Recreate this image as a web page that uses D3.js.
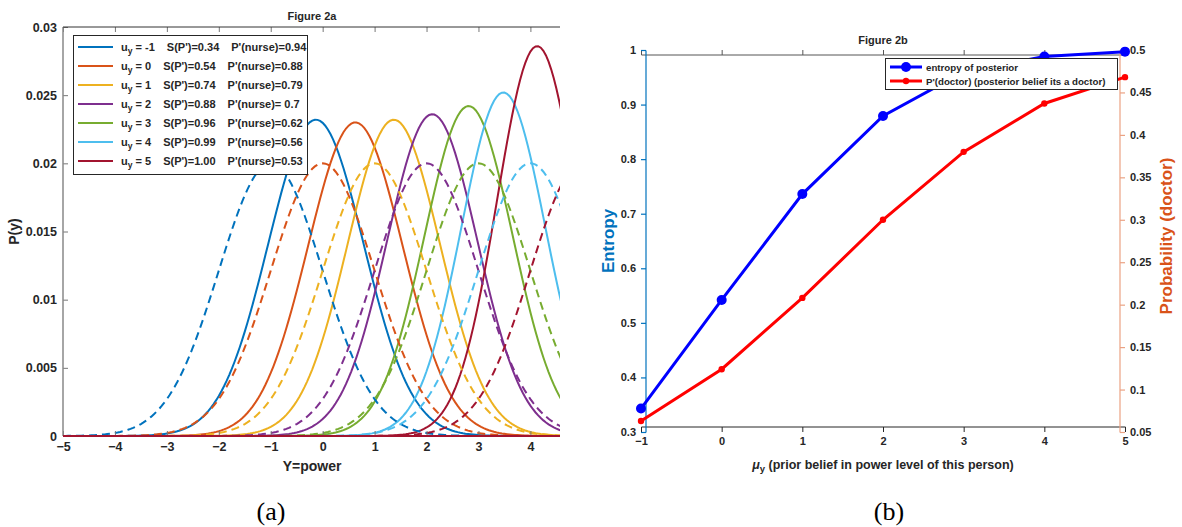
<!DOCTYPE html>
<meta charset="utf-8">
<style>
body { margin: 0; background: #fff; }
text { font-family: 'Liberation Sans', Arial, sans-serif; font-weight: bold; fill: #262626; }
.tick text { font-size: 10.5px; }
.caption { font-family: 'Liberation Serif', 'Times New Roman', serif; font-weight: normal; font-size: 26px; fill: #000; }
</style>
<body>
<script src="https://d3js.org/d3.v7.min.js"></script>
<script>

// Figure 2a: prior (dashed) and posterior (solid) curves
const priorMeans = [-1, 0, 1, 2, 3, 4, 5];
const priorPeak = 0.02,
      priorSd = 1;
const postMeans = [-0.13, 0.63, 1.37, 2.11, 2.81, 3.48, 4.13];
const postPeaks = [0.0232, 0.0230, 0.0232, 0.0236, 0.0242, 0.0252, 0.0286];
const postSds = [0.92, 0.91, 0.89, 0.87, 0.85, 0.81, 0.77];
const entropyLabels = ["0.34", "0.54", "0.74", "0.88", "0.96", "0.99", "1.00"];
const nurseLabels = ["0.94", "0.88", "0.79", " 0.7", "0.62", "0.56", "0.53"];
const xTicksA = [-5, -4, -3, -2, -1, 0, 1, 2, 3, 4];
const yTicksA = [0, 0.005, 0.01, 0.015, 0.02, 0.025, 0.03];
const colors = ["#0072BD", "#D95319", "#EDB120", "#7E2F8E", "#77AC30", "#4DBEEE", "#A2142F"];

// Figure 2b
const muY = [-1, 0, 1, 2, 3, 4, 5];
const entropy = [0.343, 0.542, 0.736, 0.879, 0.96, 0.988, 0.997];
const pDoctor = [0.063, 0.124, 0.208, 0.300, 0.380, 0.437, 0.468];
const yTicksLeft = [0.3, 0.4, 0.5, 0.6, 0.7, 0.8, 0.9, 1];
const yTicksRight = [0.05, 0.1, 0.15, 0.2, 0.25, 0.3, 0.35, 0.4, 0.45, 0.5];

const svg = d3.select("body").append("svg")
    .attr("width", 1182)
    .attr("height", 527);

// ---------- panel a ----------
const xa = d3.scaleLinear().domain([-5, 4.57]).range([63, 560]),
      ya = d3.scaleLinear().domain([0, 0.03]).range([436, 27]);

svg.append("clipPath").attr("id", "clipA")
  .append("rect")
    .attr("x", xa.range()[0]).attr("y", ya.range()[1])
    .attr("width", xa.range()[1] - xa.range()[0])
    .attr("height", ya.range()[0] - ya.range()[1]);

const grid = d3.range(-5, 5.001, 0.05);
const gauss = (m, s, p) => grid.map(x => [x, p * Math.exp(-(x - m) * (x - m) / (2 * s * s))]);
const line = d3.line().x(d => xa(d[0])).y(d => ya(d[1]));

const curves = svg.append("g").attr("clip-path", "url(#clipA)").attr("fill", "none");

curves.selectAll("path.post")
  .data(postMeans)
  .join("path")
    .attr("class", "post")
    .attr("stroke", (d, i) => colors[i])
    .attr("stroke-width", 2)
    .attr("d", (d, i) => line(gauss(d, postSds[i], postPeaks[i])));

curves.selectAll("path.prior")
  .data(priorMeans)
  .join("path")
    .attr("class", "prior")
    .attr("stroke", (d, i) => colors[i])
    .attr("stroke-width", 2)
    .attr("stroke-dasharray", "8,5")
    .attr("d", d => line(gauss(d, priorSd, priorPeak)));

// axes a
const axA = svg.append("g");
axA.append("g")
    .attr("transform", `translate(0,${ya(0)})`)
    .call(d3.axisBottom(xa).tickValues(xTicksA).tickSize(-5).tickPadding(6).tickFormat(d3.format("d")));
axA.append("g")
    .attr("transform", `translate(0,${ya(0.03)})`)
    .call(d3.axisTop(xa).tickValues(xTicksA).tickSize(-5).tickFormat(""));
axA.append("g")
    .attr("transform", `translate(${xa(-5)},0)`)
    .call(d3.axisLeft(ya).tickValues(yTicksA).tickSize(-5).tickPadding(6).tickFormat(d3.format("~g")));
axA.selectAll(".tick line").attr("stroke", "#777");
axA.selectAll(".tick text").attr("fill", "#262626").style("font-size", "12.5px");

// clean frame lines for panel a
axA.selectAll(".domain").remove();
axA.append("line").attr("x1", xa(-5)).attr("x2", xa(-5)).attr("y1", ya(0)).attr("y2", ya(0.03))
    .attr("stroke", "#888").attr("stroke-width", 1.5);
axA.append("line").attr("x1", xa(-5)).attr("x2", xa(4.57)).attr("y1", ya(0.03)).attr("y2", ya(0.03))
    .attr("stroke", "#333").attr("stroke-width", 1);
axA.append("line").attr("x1", xa(-5)).attr("x2", xa(4.57)).attr("y1", ya(0)).attr("y2", ya(0))
    .attr("stroke", colors[6]).attr("stroke-width", 2);

svg.append("text").attr("x", 312).attr("y", 20).attr("text-anchor", "middle")
    .style("font-size", "11px").text("Figure 2a");
svg.append("text").attr("x", 312).attr("y", 471).attr("text-anchor", "middle")
    .style("font-size", "14px").text("Y=power");
svg.append("text").attr("transform", `translate(19,${(ya(0) + ya(0.03)) / 2}) rotate(-90)`)
    .attr("text-anchor", "middle").style("font-size", "14px").text("P(y)");

// legend a
const legA = svg.append("g");
legA.append("rect").attr("x", 73.5).attr("y", 35.5).attr("width", 234).attr("height", 139)
    .attr("fill", "#fff").attr("stroke", "#262626").attr("stroke-width", 1);
const rowsA = legA.selectAll("g.row")
  .data(postMeans)
  .join("g")
    .attr("class", "row")
    .attr("transform", (d, i) => `translate(0,${47 + i * 19})`);
rowsA.append("line").attr("x1", 78).attr("x2", 113)
    .attr("stroke", (d, i) => colors[i]).attr("stroke-width", 2);
const labA = rowsA.append("text").attr("x", 121).attr("y", 4).style("font-size", "11px");
labA.append("tspan").text("u");
labA.append("tspan").attr("dy", 3).style("font-size", "8.5px").text("y");
labA.append("tspan").attr("dy", -3).text((d, i) => " = " + priorMeans[i]);
labA.append("tspan").attr("dx", 12).text((d, i) => "S(P')=" + entropyLabels[i]);
labA.append("tspan").attr("dx", 12).text((d, i) => "P'(nurse)=" + nurseLabels[i]);

// ---------- panel b ----------
const xb = d3.scaleLinear().domain([-1, 5]).range([641, 1125]),
      yl = d3.scaleLinear().domain([0.3, 1]).range([432, 50]),
      yr = d3.scaleLinear().domain([0.05, 0.5]).range([432, 50]);
const blueAxis = "#0072BD", redAxis = "#D95319";

const axB = svg.append("g");
axB.append("g")
    .attr("transform", `translate(0,${yl(0.3)})`)
    .call(d3.axisBottom(xb).ticks(6).tickSize(-5).tickPadding(5).tickFormat(d3.format("d")))
    .call(g => g.selectAll("line, path").attr("stroke", "#262626"));
axB.append("g")
    .attr("transform", `translate(0,${yl(1)})`)
    .call(d3.axisTop(xb).ticks(6).tickSize(-5).tickFormat(""))
    .call(g => g.selectAll("line, path").attr("stroke", "#555"));
axB.append("g")
    .attr("transform", `translate(${xb(-1)},0)`)
    .call(d3.axisLeft(yl).tickValues(yTicksLeft).tickSize(-5).tickPadding(5).tickFormat(d3.format("~g")))
    .call(g => g.selectAll("line, path").attr("stroke", blueAxis).attr("stroke-width", 1.2))
    .call(g => g.selectAll("text").attr("fill", blueAxis));
axB.append("g")
    .attr("transform", `translate(${xb(5)},0)`)
    .call(d3.axisRight(yr).tickValues(yTicksRight).tickSize(-5).tickPadding(5).tickFormat(d3.format("~g")))
    .call(g => g.selectAll("line, path").attr("stroke", "#EBA283").attr("stroke-width", 1.2))
    .call(g => g.selectAll("text").attr("fill", redAxis));
axB.selectAll(".domain").each(function() {
  const s = d3.select(this), d = s.attr("d");
  s.attr("d", d.replace(/^M([-\d.]+),([-\d.]+)[HV][-\d.]+/, "M$1,$2").replace(/[HV]-?[\d.]+$/, ""));
});
axB.selectAll(".tick text").style("font-size", "11px");

// lines b
const entropyLine = d3.line().x((d, i) => xb(muY[i])).y(d => yl(d));
const doctorLine = d3.line().x((d, i) => xb(muY[i])).y(d => yr(d));

svg.append("path").datum(entropy)
    .attr("fill", "none").attr("stroke", "#0000FF").attr("stroke-width", 3)
    .attr("d", entropyLine);
svg.append("g").selectAll("circle")
  .data(entropy)
  .join("circle")
    .attr("cx", (d, i) => xb(muY[i])).attr("cy", d => yl(d)).attr("r", 5)
    .attr("fill", "#0000FF");

svg.append("path").datum(pDoctor)
    .attr("fill", "none").attr("stroke", "#FF0000").attr("stroke-width", 3)
    .attr("d", doctorLine);
svg.append("g").selectAll("circle")
  .data(pDoctor)
  .join("circle")
    .attr("cx", (d, i) => xb(muY[i])).attr("cy", d => yr(d)).attr("r", 3.2)
    .attr("fill", "#FF0000");

// legend b
const legB = svg.append("g");
legB.append("rect").attr("x", 885.5).attr("y", 58.5).attr("width", 232).attr("height", 31)
    .attr("fill", "#fff").attr("stroke", "#262626").attr("stroke-width", 1);
legB.append("line").attr("x1", 890).attr("x2", 922).attr("y1", 67).attr("y2", 67)
    .attr("stroke", "#0000FF").attr("stroke-width", 3);
legB.append("circle").attr("cx", 906).attr("cy", 67).attr("r", 5).attr("fill", "#0000FF");
legB.append("text").attr("x", 926).attr("y", 70.5).style("font-size", "9.7px").text("entropy of posterior");
legB.append("line").attr("x1", 890).attr("x2", 922).attr("y1", 81).attr("y2", 81)
    .attr("stroke", "#FF0000").attr("stroke-width", 3);
legB.append("circle").attr("cx", 906).attr("cy", 81).attr("r", 3.2).attr("fill", "#FF0000");
legB.append("text").attr("x", 926).attr("y", 84.5).style("font-size", "9.7px").text("P'(doctor) (posterior belief its a doctor)");

svg.append("text").attr("x", 883).attr("y", 44).attr("text-anchor", "middle")
    .style("font-size", "11px").text("Figure 2b");

const xlabB = svg.append("text").attr("x", 883).attr("y", 469).attr("text-anchor", "middle")
    .style("font-size", "12.5px");
xlabB.append("tspan").style("font-style", "italic").text("\u03bc");
xlabB.append("tspan").attr("dy", 3).style("font-size", "9.5px").text("y");
xlabB.append("tspan").attr("dy", -3).text(" (prior belief in power level of this person)");

svg.append("text").attr("transform", `translate(614,241) rotate(-90)`)
    .attr("text-anchor", "middle").style("font-size", "17px").style("fill", blueAxis)
    .text("Entropy");
svg.append("text").attr("transform", `translate(1172,236) rotate(-90)`)
    .attr("text-anchor", "middle").style("font-size", "17px").style("fill", redAxis)
    .text("Probability (doctor)");

// captions
svg.append("text").attr("class", "caption").attr("x", 271).attr("y", 520).attr("text-anchor", "middle").text("(a)");
svg.append("text").attr("class", "caption").attr("x", 889).attr("y", 520).attr("text-anchor", "middle").text("(b)");

</script>
